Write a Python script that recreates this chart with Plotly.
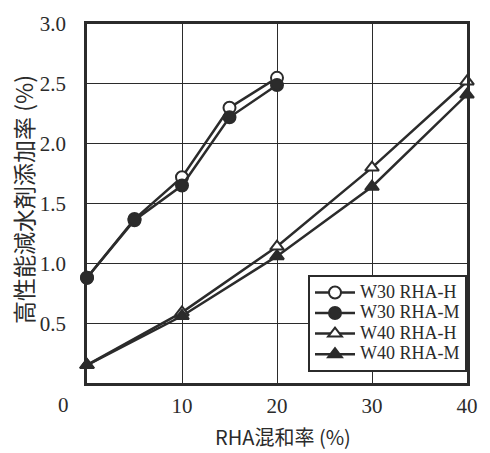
import plotly.graph_objects as go

# Data
x_w30 = [0, 5, 10, 15, 20]
w30_rha_h = [0.88, 1.37, 1.72, 2.30, 2.55]
w30_rha_m = [0.88, 1.36, 1.65, 2.22, 2.49]

x_w40 = [0, 10, 20, 30, 40]
w40_rha_h = [0.15, 0.59, 1.14, 1.80, 2.52]
w40_rha_m = [0.15, 0.56, 1.06, 1.64, 2.41]

x_ticks = [10, 20, 30, 40]
y_ticks = [0.5, 1.0, 1.5, 2.0, 2.5, 3.0]
y_tick_text = ["0.5", "1.0", "1.5", "2.0", "2.5", "3.0"]

ink = "#2b2b2b"
serif = "Liberation Serif, Noto Sans CJK JP, serif"
sans = "Noto Sans CJK JP, sans-serif"

fig = go.Figure()

series = [
    ("W30 RHA-H", x_w30, w30_rha_h, "circle", "white"),
    ("W30 RHA-M", x_w30, w30_rha_m, "circle", ink),
    ("W40 RHA-H", x_w40, w40_rha_h, "triangle-up", "white"),
    ("W40 RHA-M", x_w40, w40_rha_m, "triangle-up", ink),
]

for name, xs, ys, sym, fill in series:
    fig.add_trace(go.Scatter(
        x=xs, y=ys, name='<span style="font-size:18px">%s</span>' % name,
        mode="lines+markers",
        line=dict(color=ink, width=2.5),
        marker=dict(symbol=sym, size=12, color=fill,
                    line=dict(color=ink, width=2)),
        cliponaxis=False,
    ))

fig.update_layout(
    width=490, height=453,
    margin=dict(l=87, r=18, t=17, b=70),
    paper_bgcolor="white", plot_bgcolor="white",
    font=dict(family=serif, color=ink, size=18),
    showlegend=True,
    legend=dict(
        x=1, xanchor="right", y=0.03, yanchor="bottom",
        bgcolor="white", bordercolor=ink, borderwidth=2,
        font=dict(family=serif, size=13.5, color=ink),
        tracegroupgap=0, itemwidth=40,
    ),
    xaxis=dict(
        range=[0, 40], tickvals=x_ticks, ticks="",
        showgrid=True, gridcolor=ink, gridwidth=1.2,
        showline=True, linecolor=ink, linewidth=2.5, mirror=True,
        zeroline=False, ticklabelstandoff=2,
        tickfont=dict(size=21, family=serif, color=ink),
    ),
    yaxis=dict(
        range=[0, 3.0], tickvals=y_ticks, ticktext=y_tick_text, ticks="",
        showgrid=True, gridcolor=ink, gridwidth=1.2,
        showline=True, linecolor=ink, linewidth=2.5, mirror=True,
        zeroline=False, ticklabelstandoff=14,
        tickfont=dict(size=21, family=serif, color=ink),
    ),
    annotations=[
        dict(text="0", xref="x", yref="paper", x=0, y=0,
             xanchor="center", yanchor="top", xshift=-24, yshift=-8,
             showarrow=False, font=dict(size=21, family=serif, color=ink)),
        dict(text="RHA混和率 (%)", xref="paper", yref="paper",
             x=0.5, y=0, xanchor="center", yanchor="middle", xshift=6, yshift=-53,
             showarrow=False, font=dict(size=20, family=sans, color=ink)),
        dict(text="高性能減水剤添加率 (%)", xref="paper", yref="paper",
             x=0, y=0.51, xanchor="center", yanchor="middle", xshift=-64,
             textangle=-90, showarrow=False,
             font=dict(size=23, family=sans, color=ink)),
    ],
)

fig.write_html("out.html")
